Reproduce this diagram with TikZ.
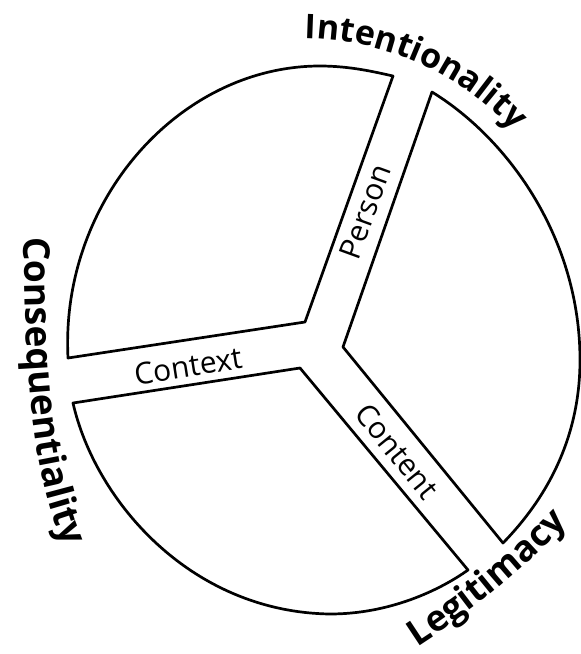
\documentclass[tikz,border=0pt]{standalone}
\usepackage{fontspec}
\setmainfont{Open Sans}
\usetikzlibrary{decorations.text}
\begin{document}
\begin{tikzpicture}[x=1pt,y=-1pt,
  sector/.style={draw=black, line width=2.7pt, line join=round, line cap=round},
  inlabel/.style={font=\fontsize{30}{32}\selectfont, inner sep=0pt}]
\useasboundingbox (0,0) rectangle (581,654);
% corners
\coordinate (tlA) at (68,358);
\coordinate (tlB) at (393,76);
\coordinate (tlC) at (305,322);
\coordinate (rA) at (432,92);
\coordinate (rB) at (503,543);
\coordinate (rC) at (343,347);
\coordinate (bA) at (73,403);
\coordinate (bB) at (468,570);
\coordinate (bC) at (300,368);
% top-left sector
\draw[sector] (tlC) -- (tlA) .. controls (60,200) and (180,66) .. (320,66)
  .. controls (350,66) and (375,72) .. (tlB) -- cycle;
% right sector
\draw[sector] (rC) -- (rA) .. controls (510,140) and (580,240) .. (580,360)
  .. controls (580,440) and (545,500) .. (rB) -- cycle;
% bottom sector
\draw[sector] (bC) -- (bA) .. controls (95,500) and (190,612) .. (330,614)
  .. controls (390,614) and (440,590) .. (bB) -- cycle;
% band labels
\node[inlabel, rotate=70] (person) at (365,212) {Person};
\node[inlabel, rotate=9] (context) at (188,366) {Context};
\node[inlabel, rotate=-51] (content) at (397,451) {Content};
% outer labels
\path[decorate, decoration={text along path, text align=center,
  text={|\fontsize{34}{40}\selectfont\bfseries|Intentionality}}]
  plot[domain=0:1, samples=40, smooth] ({300+292*cos(96-60*\x)},{330-292*sin(96-60*\x)});
\path[decorate, decoration={text along path, text align=left,
  text={|\fontsize{37}{40}\selectfont\bfseries|Consequentiality}}]
  (24,237) .. controls (25,420) and (38,490) .. (72,566);
\path[decorate, decoration={text along path, text align=left,
  text={|\fontsize{36}{40}\selectfont\bfseries|Legitimacy}}]
  (417,647) .. controls (482,605) and (542,555) .. (602,485);
\end{tikzpicture}
\end{document}
